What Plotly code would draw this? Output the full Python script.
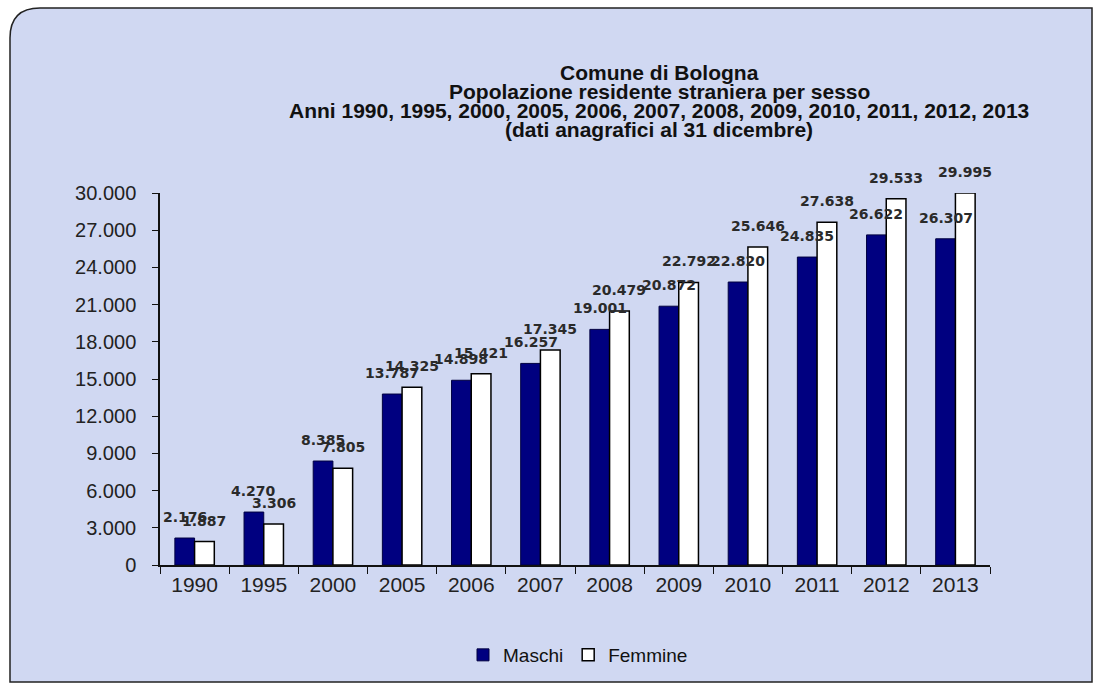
import plotly.graph_objects as go

years = ["1990", "1995", "2000", "2005", "2006", "2007", "2008", "2009", "2010", "2011", "2012", "2013"]
maschi = [2176, 4270, 8385, 13787, 14898, 16257, 19001, 20872, 22820, 24835, 26622, 26307]
femmine = [1887, 3306, 7805, 14325, 15421, 17345, 20479, 22792, 25646, 27638, 29533, 29995]
y_ticks = list(range(0, 30001, 3000))
title_lines = [
    "Comune di Bologna",
    "Popolazione residente straniera per sesso",
    "Anni 1990, 1995, 2000, 2005, 2006, 2007, 2008, 2009, 2010, 2011, 2012, 2013",
    "(dati anagrafici al 31 dicembre)",
]

W, H = 1101, 684
L, R, T, B = 160, 111, 193, 119
pw, ph = W - L - R, H - T - B
BARGAP = 0.43


def px(x):
    return (x - L) / pw


def py(y):
    return (H - B - y) / ph


def fmt(v):
    return f"{v:,}".replace(",", ".")


fig = go.Figure()
fig.add_trace(go.Bar(
    name="Maschi", x=years, y=maschi,
    marker=dict(color="#000080", line=dict(color="#000040", width=1)),
))
fig.add_trace(go.Bar(
    name="Femmine", x=years, y=femmine,
    marker=dict(color="#ffffff", line=dict(color="#000000", width=1.5)),
))

# data labels above each bar (x given as category index on the category axis)
bar_px = pw / len(years) * (1 - BARGAP) / 2
label_font = dict(family="DejaVu Sans", size=14, color="#2a2a2a", weight="bold")
for series, shift in ((maschi, -bar_px / 2), (femmine, bar_px / 2)):
    for i, v in enumerate(series):
        fig.add_annotation(x=i, y=v, xref="x", yref="y", text=fmt(v), showarrow=False,
                           xanchor="center", yanchor="bottom", xshift=shift, yshift=11,
                           font=label_font)

# rounded frame
x0, x1, y0, y1, r = 10, 1092, 8, 682, 30
path = (f"M {px(x0 + r)} {py(y0)} L {px(x1)} {py(y0)} L {px(x1)} {py(y1)} "
        f"L {px(x0)} {py(y1)} L {px(x0)} {py(y0 + r)} Q {px(x0)} {py(y0)} {px(x0 + r)} {py(y0)} Z")
fig.add_shape(type="path", path=path, xref="paper", yref="paper",
              fillcolor="#d0d8f2", line=dict(color="#222222", width=1.5), layer="below")

for i, line in enumerate(title_lines):
    fig.add_annotation(
        x=px(659), y=py(72 + 19.2 * i), xref="paper", yref="paper",
        xanchor="center", yanchor="middle", showarrow=False,
        text=f"<b>{line}</b>",
        font=dict(family="Liberation Sans", size=21, color="#111111"),
    )

fig.update_layout(
    width=W, height=H,
    margin=dict(l=L, r=R, t=T, b=B, autoexpand=False),
    paper_bgcolor="#ffffff", plot_bgcolor="rgba(0,0,0,0)",
    separators=",.",
    barmode="group", bargap=BARGAP, bargroupgap=0,
    font=dict(family="Liberation Sans", size=15, color="#111111"),
    showlegend=True,
    legend=dict(orientation="h", x=px(578), xanchor="center", y=py(655), yanchor="middle",
                bgcolor="rgba(0,0,0,0)", font=dict(family="Liberation Sans", size=19, color="#111111"),
                itemwidth=30, traceorder="normal"),
    xaxis=dict(type="category", categoryorder="array", categoryarray=years,
               range=[-0.5, len(years) - 0.5],
               showline=True, linecolor="#111111", linewidth=1.5, ticks="outside",
               tickson="boundaries", ticklen=7, tickcolor="#111111", tickangle=0,
               tickfont=dict(family="Liberation Sans", size=21, color="#222222"), showgrid=False),
    yaxis=dict(range=[0, 30000], tickvals=y_ticks, tickformat=",.0f",
               showline=True, linecolor="#111111", linewidth=1.5, ticks="outside",
               ticklen=6, tickcolor="#111111", showgrid=False, zeroline=False,
               ticklabelstandoff=12,
               tickfont=dict(family="Liberation Sans", size=20, color="#222222")),
)

fig.write_html("out.html", config={"displayModeBar": False},
               post_script="document.body.style.margin='0';")
